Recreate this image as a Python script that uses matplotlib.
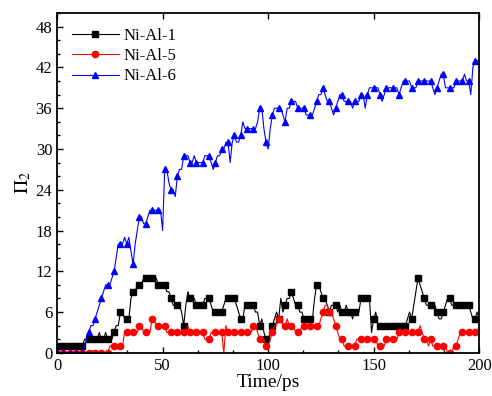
import matplotlib
matplotlib.use("Agg")
import matplotlib.pyplot as plt
from matplotlib.ticker import MultipleLocator, AutoMinorLocator

plt.rcParams['font.family'] = ['Liberation Serif', 'DejaVu Serif']
plt.rcParams['mathtext.fontset'] = 'stix'

# time axis, 1 ps steps
time_ps = list(range(0, 201))

ni_al_1 = [
    1, 1, 1, 1, 1, 1, 1, 1, 1, 1,
    1, 1, 1, 2, 2, 2, 2, 2, 2, 2,
    3, 2, 2, 3, 2, 2, 2, 3, 4, 4,
    6, 6, 5, 5, 5, 8, 9, 9, 10, 10,
    10, 11, 11, 11, 11, 11, 11, 11, 10, 10,
    10, 10, 9, 9, 8, 7, 7, 7, 7, 6,
    4, 7, 9, 8, 8, 8, 7, 7, 7, 7,
    8, 8, 8, 7, 6, 6, 6, 6, 6, 7,
    8, 8, 8, 8, 8, 7, 6, 5, 5, 7,
    7, 7, 7, 7, 6, 6, 4, 5, 3, 2,
    2, 3, 4, 5, 6, 5, 8, 6, 7, 8,
    8, 9, 8, 7, 7, 6, 6, 5, 5, 5,
    5, 5, 8, 10, 10, 9, 8, 8, 7, 6,
    7, 7, 7, 6, 7, 6, 6, 7, 6, 6,
    5, 6, 6, 6, 8, 8, 8, 8, 8, 3,
    5, 6, 4, 4, 4, 4, 4, 4, 4, 4,
    4, 4, 4, 4, 4, 4, 5, 6, 5, 7,
    9, 11, 10, 9, 8, 7, 7, 7, 7, 7,
    6, 5, 5, 6, 7, 8, 8, 7, 7, 7,
    7, 7, 7, 7, 7, 7, 6, 5, 5, 6,
    5]

ni_al_5 = [
    0, 0, 0, 0, 0, 0, 0, 0, 0, 0,
    0, 0, 0, 0, 0, 0, 0, 0, 0, 0,
    0, 0, 0, 0, 0, 1, 1, 1, 1, 1,
    1, 1, 3, 3, 3, 3, 3, 3, 3, 4,
    4, 3, 3, 3, 3, 5, 5, 4, 4, 4,
    4, 4, 3, 3, 3, 3, 3, 3, 3, 3,
    3, 3, 4, 3, 3, 3, 3, 3, 3, 3,
    2, 2, 2, 3, 3, 3, 3, 3, 3, 0,
    4, 3, 3, 3, 3, 3, 3, 3, 3, 3,
    3, 3, 3, 4, 4, 3, 2, 2, 2, 1,
    1, 2, 3, 4, 4, 5, 5, 4, 4, 5,
    4, 4, 4, 3, 3, 3, 4, 4, 4, 4,
    4, 4, 4, 4, 4, 5, 6, 7, 7, 6,
    6, 5, 4, 3, 2, 2, 1, 1, 1, 1,
    1, 1, 2, 2, 2, 2, 2, 2, 2, 2,
    2, 2, 1, 1, 1, 1, 2, 2, 2, 2,
    2, 2, 3, 3, 3, 3, 3, 3, 3, 3,
    3, 3, 4, 3, 2, 2, 1, 2, 1, 1,
    1, 1, 1, 1, 1, 0, 0, 0, 1, 1,
    2, 3, 3, 3, 3, 3, 3, 3, 3, 3,
    4]

ni_al_6 = [
    0, 0, 0, 0, 0, 0, 0, 0, 0, 0,
    0, 0, 0, 1, 2, 3, 4, 4, 5, 6,
    7, 8, 9, 10, 10, 10, 11, 12, 14, 16,
    16, 16, 17, 16, 17, 15, 13, 16, 18, 20,
    20, 19, 19, 20, 21, 21, 21, 21, 21, 21,
    18, 27, 27, 25, 24, 24, 23, 26, 27, 27,
    29, 29, 29, 28, 28, 29, 28, 28, 28, 28,
    29, 29, 29, 28, 27, 28, 29, 29, 30, 30,
    31, 31, 28, 31, 32, 31, 31, 32, 34, 33,
    33, 33, 33, 33, 33, 34, 36, 36, 33, 31,
    30, 33, 35, 36, 36, 36, 36, 35, 34, 36,
    36, 37, 37, 37, 36, 36, 36, 36, 35, 35,
    35, 35, 36, 37, 38, 38, 39, 38, 37, 37,
    36, 35, 36, 37, 38, 38, 37, 37, 37, 37,
    36, 37, 37, 37, 38, 38, 36, 38, 39, 39,
    39, 39, 39, 38, 37, 38, 39, 39, 39, 39,
    39, 39, 38, 39, 40, 40, 40, 40, 39, 39,
    39, 40, 40, 40, 40, 40, 40, 40, 39, 38,
    39, 40, 41, 41, 39, 39, 39, 39, 39, 40,
    40, 40, 40, 41, 40, 40, 38, 42, 43, 43,
    43]

fig = plt.figure(figsize=(4.92, 3.96), dpi=100)
ax = fig.add_axes([0.116, 0.109, 0.858, 0.858])

ax.plot(time_ps, ni_al_1, color='black', lw=0.8, marker='s', ms=4,
        markevery=3, label='Ni-Al-1')
ax.plot(time_ps, ni_al_5, color='red', lw=0.8, marker='o', ms=4.5,
        markevery=3, label='Ni-Al-5')
ax.plot(time_ps, ni_al_6, color='blue', lw=0.8, marker='^', ms=4.5,
        markevery=3, label='Ni-Al-6')

ax.set_xlim(0, 200)
ax.set_ylim(0, 50)
ax.xaxis.set_major_locator(MultipleLocator(50))
ax.yaxis.set_major_locator(MultipleLocator(6))
ax.xaxis.set_minor_locator(AutoMinorLocator(3))
ax.yaxis.set_minor_locator(AutoMinorLocator(3))
ax.tick_params(which='both', direction='in', top=True, right=False,
               labelsize=12, width=1.0)
ax.tick_params(which='major', length=4)
ax.tick_params(which='minor', length=2, top=False)
for s in ax.spines.values():
    s.set_linewidth(1.3)

ax.set_xlabel('Time/ps', fontsize=14, labelpad=0)
ax.set_ylabel(r'$\Pi_2$', fontsize=14, labelpad=2)

ax.legend(loc='upper left', frameon=False, fontsize=12, handlelength=2.8,
          borderaxespad=0.3, borderpad=0.6, labelspacing=0.25,
          handletextpad=0.3)

fig.savefig('out.png', dpi=100)
